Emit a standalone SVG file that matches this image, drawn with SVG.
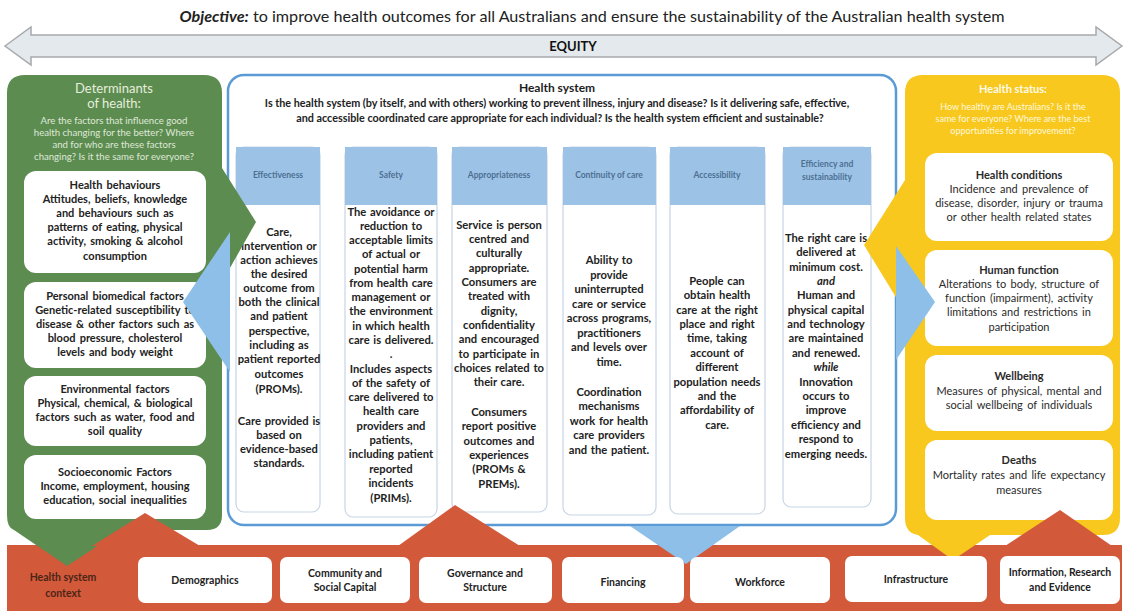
<svg xmlns="http://www.w3.org/2000/svg" width="1126" height="613" viewBox="0 0 1126 613">
<style>
  text { font-family: "Lato", "Liberation Sans", sans-serif; fill: #1f1f1f; text-anchor: middle; }
  .title { font-size: 15px; fill: #222; }
  .eq { font-size: 13px; font-weight: 700; fill: #111; }
  .ghead { font-size: 13px; fill: #e6eedc; }
  .gq { font-size: 9.6px; fill: #dfe8d6; }
  .yhead { font-size: 11px; fill: #fffbe8; font-weight: 700; }
  .yq { font-size: 9px; fill: #fff8dc; }
  .box { fill: #ffffff; }
  .bt { font-size: 11px; font-weight: 700; fill: #222; word-spacing: 1.5px; }
  .yt { font-size: 11px; fill: #2a2a2a; word-spacing: 1.5px; }
  .ytb { font-size: 11px; font-weight: 700; fill: #2a2a2a; }
  .col { font-size: 11.2px; font-weight: 700; fill: #222; word-spacing: 1px; }
  .chead { fill: #9cc3e6; }
  .cbody { fill: #ffffff; stroke: #c7d6e6; stroke-width: 1.2; }
  .ch { font-size: 8.5px; font-weight: 700; fill: #4d6f92; }
  .hs { font-size: 12px; font-weight: 700; fill: #1d1d1d; }
  .hq { font-size: 10.8px; font-weight: 700; fill: #222; }
  .bar { fill: #d3593b; }
  .bbox { fill: #ffffff; }
  .bl { font-size: 10.5px; font-weight: 700; fill: #222; }
  .ctx { font-size: 10.5px; font-weight: 700; fill: #4a2516; }
  .green { fill: #5d8c51; }
  .yellow { fill: #f8c81f; }
  .blue-arrow { fill: #8ebfe8; }
</style>

<!-- objective line -->
<text class="title" x="592" y="22" textLength="825" lengthAdjust="spacingAndGlyphs"><tspan font-weight="700" font-style="italic">Objective:</tspan> to improve health outcomes for all Australians and ensure the sustainability of the Australian health system</text>

<!-- equity double arrow -->
<g id="equity">
  <path d="M5,46 L31,27 L31,35 L1096,35 L1096,27 L1122,46 L1096,65 L1096,57 L31,57 L31,65 Z" fill="#e3e9ec" stroke="#a7a9ab" stroke-width="1.5"/>
  <text class="eq" x="573" y="51">EQUITY</text>
</g>

<!-- health system context bar -->
<g id="context">
  <rect class="bar" x="7" y="545" width="1115" height="66"/>
  <text class="ctx" x="63" y="581">Health system</text>
  <text class="ctx" x="63" y="597">context</text>
</g>

<!-- determinants of health -->
<g id="determinants">
  <path class="green" d="M7,93 Q7,75 25,75 L204,75 Q222,75 222,93 L222,515 Q222,530 207,530 L122,530 L67,566 L14,530 Q7,528 7,515 Z"/>
  <text class="ghead" x="114" y="93">Determinants</text>
  <text class="ghead" x="114" y="108">of health:</text>
  <text class="gq" x="114" y="124">Are the factors that influence good</text>
  <text class="gq" x="114" y="136">health changing for the better? Where</text>
  <text class="gq" x="114" y="148">and for who are these factors</text>
  <text class="gq" x="114" y="160">changing? Is it the same for everyone?</text>

  <g id="health-behaviours">
    <rect class="box" x="24" y="171" width="182" height="102" rx="12"/>
    <text class="bt" x="115" y="189">Health behaviours</text>
    <text class="bt" x="115" y="203">Attitudes, beliefs, knowledge</text>
    <text class="bt" x="115" y="217">and behaviours such as</text>
    <text class="bt" x="115" y="231">patterns of eating, physical</text>
    <text class="bt" x="115" y="245">activity, smoking &amp; alcohol</text>
    <text class="bt" x="115" y="260">consumption</text>
  </g>
  <g id="biomedical">
    <rect class="box" x="24" y="282" width="182" height="86" rx="12"/>
    <text class="bt" x="115" y="300">Personal biomedical factors</text>
    <text class="bt" x="115" y="314">Genetic-related susceptibility to</text>
    <text class="bt" x="115" y="328">disease &amp; other factors such as</text>
    <text class="bt" x="115" y="342">blood pressure, cholesterol</text>
    <text class="bt" x="115" y="356">levels and body weight</text>
  </g>
  <g id="environmental">
    <rect class="box" x="24" y="376" width="182" height="70" rx="12"/>
    <text class="bt" x="115" y="393">Environmental factors</text>
    <text class="bt" x="115" y="407">Physical, chemical, &amp; biological</text>
    <text class="bt" x="115" y="421">factors such as water, food and</text>
    <text class="bt" x="115" y="435">soil quality</text>
  </g>
  <g id="socioeconomic">
    <rect class="box" x="24" y="455" width="182" height="64" rx="12"/>
    <text class="bt" x="115" y="476">Socioeconomic Factors</text>
    <text class="bt" x="115" y="490">Income, employment, housing</text>
    <text class="bt" x="115" y="504">education, social inequalities</text>
  </g>
</g>

<!-- health system -->
<g id="health-system">
  <rect x="228" y="75" width="668" height="450" rx="16" fill="#ffffff" stroke="#5b9bd5" stroke-width="2.5"/>
  <text class="hs" x="557" y="92">Health system</text>
  <text class="hq" x="557" y="107">Is the health system (by itself, and with others) working to prevent illness, injury and disease? Is it delivering safe, effective,</text>
  <text class="hq" x="560" y="122">and accessible coordinated care appropriate for each individual? Is the health system efficient and sustainable?</text>

  <g id="effectiveness">
    <rect class="cbody" x="236" y="147" width="84" height="365" rx="8"/>
    <rect class="chead" x="236" y="147" width="84" height="58"/>
    <text class="ch" x="278" y="178">Effectiveness</text>
    <text class="col" x="279" y="236">Care,</text>
    <text class="col" x="279" y="250">intervention or</text>
    <text class="col" x="279" y="264">action achieves</text>
    <text class="col" x="279" y="278">the desired</text>
    <text class="col" x="279" y="292">outcome from</text>
    <text class="col" x="279" y="306">both the clinical</text>
    <text class="col" x="279" y="320">and patient</text>
    <text class="col" x="279" y="335">perspective,</text>
    <text class="col" x="279" y="349">including as</text>
    <text class="col" x="279" y="363">patient reported</text>
    <text class="col" x="279" y="378">outcomes</text>
    <text class="col" x="279" y="393">(PROMs).</text>
    <text class="col" x="279" y="425">Care provided is</text>
    <text class="col" x="279" y="439">based on</text>
    <text class="col" x="279" y="453">evidence-based</text>
    <text class="col" x="279" y="467">standards.</text>
  </g>

  <g id="safety">
    <rect class="cbody" x="345" y="147" width="92" height="370" rx="8"/>
    <rect class="chead" x="345" y="147" width="92" height="58"/>
    <text class="ch" x="391" y="178">Safety</text>
    <text class="col" x="391" y="216">The avoidance or</text>
    <text class="col" x="391" y="230">reduction to</text>
    <text class="col" x="391" y="244">acceptable limits</text>
    <text class="col" x="391" y="258">of actual or</text>
    <text class="col" x="391" y="273">potential harm</text>
    <text class="col" x="391" y="287">from health care</text>
    <text class="col" x="391" y="301">management or</text>
    <text class="col" x="391" y="315">the environment</text>
    <text class="col" x="391" y="330">in which health</text>
    <text class="col" x="391" y="344">care is delivered.</text>
    <text class="col" x="391" y="358">.</text>
    <text class="col" x="391" y="373">Includes aspects</text>
    <text class="col" x="391" y="387">of the safety of</text>
    <text class="col" x="391" y="401">care delivered to</text>
    <text class="col" x="391" y="415">health care</text>
    <text class="col" x="391" y="430">providers and</text>
    <text class="col" x="391" y="444">patients,</text>
    <text class="col" x="391" y="458">including patient</text>
    <text class="col" x="391" y="473">reported</text>
    <text class="col" x="391" y="487">incidents</text>
    <text class="col" x="391" y="502">(PRIMs).</text>
  </g>

  <g id="appropriateness">
    <rect class="cbody" x="452" y="147" width="95" height="365" rx="8"/>
    <rect class="chead" x="452" y="147" width="95" height="58"/>
    <text class="ch" x="499" y="178">Appropriateness</text>
    <text class="col" x="499" y="229">Service is person</text>
    <text class="col" x="499" y="243">centred and</text>
    <text class="col" x="499" y="257">culturally</text>
    <text class="col" x="499" y="272">appropriate.</text>
    <text class="col" x="499" y="286">Consumers are</text>
    <text class="col" x="499" y="300">treated with</text>
    <text class="col" x="499" y="315">dignity,</text>
    <text class="col" x="499" y="329">confidentiality</text>
    <text class="col" x="499" y="343">and encouraged</text>
    <text class="col" x="499" y="358">to participate in</text>
    <text class="col" x="499" y="372">choices related to</text>
    <text class="col" x="499" y="386">their care.</text>
    <text class="col" x="499" y="416">Consumers</text>
    <text class="col" x="499" y="430">report positive</text>
    <text class="col" x="499" y="445">outcomes and</text>
    <text class="col" x="499" y="459">experiences</text>
    <text class="col" x="499" y="473">(PROMs &amp;</text>
    <text class="col" x="499" y="488">PREMs).</text>
  </g>

  <g id="continuity">
    <rect class="cbody" x="563" y="147" width="93" height="368" rx="8"/>
    <rect class="chead" x="563" y="147" width="93" height="58"/>
    <text class="ch" x="609" y="178">Continuity of care</text>
    <text class="col" x="609" y="264">Ability to</text>
    <text class="col" x="609" y="279">provide</text>
    <text class="col" x="609" y="293">uninterrupted</text>
    <text class="col" x="609" y="308">care or service</text>
    <text class="col" x="609" y="322">across programs,</text>
    <text class="col" x="609" y="337">practitioners</text>
    <text class="col" x="609" y="351">and levels over</text>
    <text class="col" x="609" y="366">time.</text>
    <text class="col" x="609" y="396">Coordination</text>
    <text class="col" x="609" y="410">mechanisms</text>
    <text class="col" x="609" y="425">work for health</text>
    <text class="col" x="609" y="439">care providers</text>
    <text class="col" x="609" y="454">and the patient.</text>
  </g>

  <g id="accessibility">
    <rect class="cbody" x="670" y="147" width="95" height="367" rx="8"/>
    <rect class="chead" x="670" y="147" width="95" height="58"/>
    <text class="ch" x="717" y="178">Accessibility</text>
    <text class="col" x="717" y="285">People can</text>
    <text class="col" x="717" y="299">obtain health</text>
    <text class="col" x="717" y="314">care at the right</text>
    <text class="col" x="717" y="328">place and right</text>
    <text class="col" x="717" y="342">time, taking</text>
    <text class="col" x="717" y="357">account of</text>
    <text class="col" x="717" y="371">different</text>
    <text class="col" x="717" y="386">population needs</text>
    <text class="col" x="717" y="400">and the</text>
    <text class="col" x="717" y="414">affordability of</text>
    <text class="col" x="717" y="429">care.</text>
  </g>

  <g id="efficiency">
    <rect class="cbody" x="783" y="147" width="88" height="360" rx="8"/>
    <rect class="chead" x="783" y="147" width="88" height="58"/>
    <text class="ch" x="827" y="167">Efficiency and</text>
    <text class="ch" x="827" y="180">sustainability</text>
    <text class="col" x="826" y="242">The right care is</text>
    <text class="col" x="826" y="256">delivered at</text>
    <text class="col" x="826" y="271">minimum cost.</text>
    <text class="col" x="826" y="285" font-style="italic" font-weight="400">and</text>
    <text class="col" x="826" y="299">Human and</text>
    <text class="col" x="826" y="314">physical capital</text>
    <text class="col" x="826" y="328">and technology</text>
    <text class="col" x="826" y="342">are maintained</text>
    <text class="col" x="826" y="357">and renewed.</text>
    <text class="col" x="826" y="371" font-style="italic">while</text>
    <text class="col" x="826" y="386">Innovation</text>
    <text class="col" x="826" y="400">occurs to</text>
    <text class="col" x="826" y="414">improve</text>
    <text class="col" x="826" y="429">efficiency and</text>
    <text class="col" x="826" y="443">respond to</text>
    <text class="col" x="826" y="458">emerging needs.</text>
  </g>
</g>

<!-- health status -->
<g id="health-status">
  <path class="yellow" d="M905,93 Q905,75 923,75 L1102,75 Q1120,75 1120,93 L1120,518 Q1120,535 1103,535 L990,535 L953,560 L918,535 Q905,533 905,518 Z"/>
  <text class="yhead" x="1013" y="93">Health status:</text>
  <text class="yq" x="1013" y="110">How healthy are Australians? Is it the</text>
  <text class="yq" x="1013" y="122">same for everyone? Where are the best</text>
  <text class="yq" x="1013" y="134">opportunities for improvement?</text>

  <g id="health-conditions">
    <rect class="box" x="925" y="153" width="188" height="88" rx="12"/>
    <text class="ytb" x="1019" y="179">Health conditions</text>
    <text class="yt" x="1019" y="193">Incidence and prevalence of</text>
    <text class="yt" x="1019" y="207">disease, disorder, injury or trauma</text>
    <text class="yt" x="1019" y="221">or other health related states</text>
  </g>
  <g id="human-function">
    <rect class="box" x="925" y="250" width="188" height="96" rx="12"/>
    <text class="ytb" x="1019" y="274">Human function</text>
    <text class="yt" x="1019" y="288">Alterations to body, structure of</text>
    <text class="yt" x="1019" y="302">function (impairment), activity</text>
    <text class="yt" x="1019" y="316">limitations and restrictions in</text>
    <text class="yt" x="1019" y="331">participation</text>
  </g>
  <g id="wellbeing">
    <rect class="box" x="925" y="355" width="188" height="76" rx="12"/>
    <text class="ytb" x="1019" y="380">Wellbeing</text>
    <text class="yt" x="1019" y="395">Measures of physical, mental and</text>
    <text class="yt" x="1019" y="409">social wellbeing of individuals</text>
  </g>
  <g id="deaths">
    <rect class="box" x="925" y="440" width="188" height="80" rx="12"/>
    <text class="ytb" x="1019" y="464">Deaths</text>
    <text class="yt" x="1019" y="479">Mortality rates and life expectancy</text>
    <text class="yt" x="1019" y="494">measures</text>
  </g>
</g>

<!-- connecting arrows between the domains -->
<g id="connectors">
  <polygon class="green" points="222,168 256,222 222,282"/>
  <polygon class="blue-arrow" points="230,232 183,302 230,372"/>
  <polygon class="yellow" points="905,180 864,245 905,312"/>
  <polygon class="blue-arrow" points="896,246 935,302 896,360"/>
  <polygon class="blue-arrow" points="630,526 740,526 686,564"/>
  <polygon class="bar" points="92,546 145,513 200,546"/>
  <polygon class="bar" points="398,546 455,505 520,546"/>
  <polygon class="bar" points="1005,546 1060,510 1112,546"/>
</g>

<!-- context factors -->
<g id="context-factors">
  <g id="demographics"><rect class="bbox" x="138" y="557" width="134" height="46" rx="7"/><text class="bl" x="205" y="584">Demographics</text></g>
  <g id="community"><rect class="bbox" x="280" y="557" width="130" height="46" rx="7"/><text class="bl" x="345" y="577">Community and</text><text class="bl" x="345" y="591">Social Capital</text></g>
  <g id="governance"><rect class="bbox" x="419" y="557" width="133" height="46" rx="7"/><text class="bl" x="485" y="577">Governance and</text><text class="bl" x="485" y="591">Structure</text></g>
  <g id="financing"><rect class="bbox" x="562" y="557" width="122" height="46" rx="7"/><text class="bl" x="623" y="586">Financing</text></g>
  <g id="workforce"><rect class="bbox" x="690" y="557" width="140" height="46" rx="7"/><text class="bl" x="760" y="586">Workforce</text></g>
  <g id="infrastructure"><rect class="bbox" x="845" y="556" width="142" height="46" rx="7"/><text class="bl" x="916" y="583">Infrastructure</text></g>
  <g id="information"><rect class="bbox" x="1000" y="556" width="120" height="48" rx="7"/><text class="bl" x="1060" y="576">Information, Research</text><text class="bl" x="1060" y="591">and Evidence</text></g>
</g>
</svg>
